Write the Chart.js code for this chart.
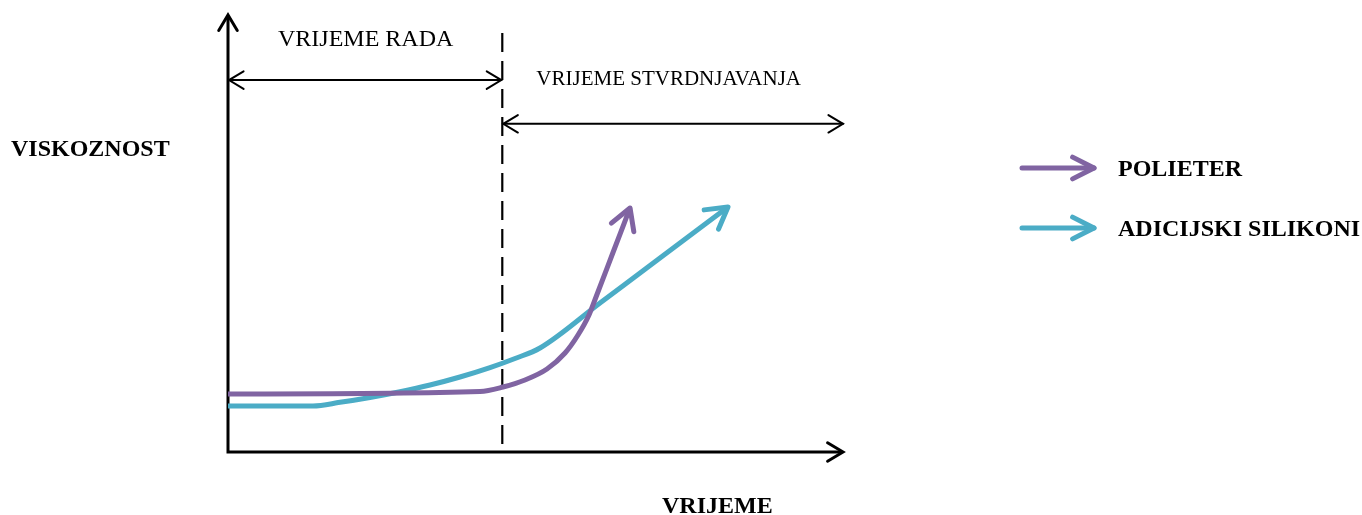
<!DOCTYPE html>
<html>
<head>
<meta charset="utf-8">
<script src="https://cdn.jsdelivr.net/npm/chart.js@4/dist/chart.umd.min.js"></script>
<style>
  html, body { margin: 0; padding: 0; background: #ffffff; }
  canvas { display: block; }
</style>
</head>
<body>
<canvas id="c" width="1362" height="515"></canvas>
<script>
// ---- data (time 0..100, viscosity 0..100, schematic units) ----
const seriesNames = ['POLIETER', 'ADICIJSKI SILIKONI'];
const seriesColors = ['#8064A2', '#4BACC6'];
const polieterX = [0, 40.98, 44.72, 48.29, 51.87, 54.80, 56.91, 58.70, 59.84, 62.60, 65.37];
const polieterY = [13.27, 13.84, 14.87, 16.48, 18.99, 22.65, 26.77, 31.35, 35.47, 45.65, 55.84];
const silikonX = [0, 13.82, 18.21, 23.09, 27.97, 32.85, 37.72, 42.60, 46.67, 50.73, 60.49, 70.24, 81.30];
const silikonY = [10.53, 10.53, 11.37, 12.49, 13.80, 15.33, 17.16, 19.31, 21.40, 23.80, 34.10, 44.39, 56.06];
const yAxisTitle = 'VISKOZNOST';
const xAxisTitle = 'VRIJEME';
const phaseLabels = ['VRIJEME RADA', 'VRIJEME STVRDNJAVANJA'];
const workEnd = 44.6;       // end of working time (dashed line)
const phaseArrowY = [85.1, 75.1]; // heights of the two span arrows

const toPts = (xs, ys) => xs.map((x, i) => ({ x: x, y: ys[i] }));

function chevron(ctx, tx, ty, ang, len, half) {
  ctx.beginPath();
  ctx.moveTo(tx - len * Math.cos(ang - half), ty - len * Math.sin(ang - half));
  ctx.lineTo(tx, ty);
  ctx.lineTo(tx - len * Math.cos(ang + half), ty - len * Math.sin(ang + half));
  ctx.stroke();
}

const SERIF = '"Liberation Serif", "Times New Roman", serif';

const decor = {
  id: 'decor',
  beforeDraw(chart) {
    const ctx = chart.ctx;
    ctx.save();
    ctx.fillStyle = '#ffffff';
    ctx.fillRect(0, 0, chart.width, chart.height);
    ctx.restore();
  },
  beforeDatasetsDraw(chart) {
    const ctx = chart.ctx;
    const xs = chart.scales.x, ys = chart.scales.y;
    const x0 = xs.getPixelForValue(0), x1 = xs.getPixelForValue(100);
    const y0 = ys.getPixelForValue(0), y1 = ys.getPixelForValue(100);
    const half = 31 * Math.PI / 180;
    ctx.save();
    ctx.strokeStyle = '#000';
    ctx.lineCap = 'butt';
    ctx.lineJoin = 'miter';
    // axes
    ctx.lineWidth = 3;
    ctx.beginPath();
    ctx.moveTo(x0, y0 + 1.5); ctx.lineTo(x0, y1 + 1);
    ctx.moveTo(x0 - 1.5, y0); ctx.lineTo(x1 - 1, y0);
    ctx.stroke();
    ctx.lineCap = 'round';
    chevron(ctx, x0, y1, -Math.PI / 2, 18, half);
    chevron(ctx, x1, y0, 0, 18, half);
    // dashed line
    const xd = xs.getPixelForValue(workEnd);
    ctx.lineCap = 'butt';
    ctx.lineWidth = 2.2;
    ctx.setLineDash([19, 9]);
    ctx.beginPath();
    ctx.moveTo(xd, y1 + 18); ctx.lineTo(xd, y0);
    ctx.stroke();
    ctx.setLineDash([]);
    // span arrows
    ctx.lineWidth = 2;
    ctx.lineCap = 'round';
    const ya = ys.getPixelForValue(phaseArrowY[0]);
    const yb = ys.getPixelForValue(phaseArrowY[1]);
    ctx.beginPath();
    ctx.moveTo(x0 + 1, ya); ctx.lineTo(xd - 1, ya);
    ctx.moveTo(xd + 1, yb); ctx.lineTo(x1, yb);
    ctx.stroke();
    chevron(ctx, x0 + 1, ya, Math.PI, 17, half);
    chevron(ctx, xd - 1, ya, 0, 17, half);
    chevron(ctx, xd + 1, yb, Math.PI, 17, half);
    chevron(ctx, x1, yb, 0, 17, half);
    // texts
    ctx.fillStyle = '#000';
    ctx.textBaseline = 'alphabetic';
    ctx.textAlign = 'left';
    ctx.font = '24px ' + SERIF;
    ctx.fillText(phaseLabels[0], x0 + 50, 46);
    ctx.font = '21px ' + SERIF;
    ctx.fillText(phaseLabels[1], xd + 34, 85);
    ctx.font = 'bold 24px ' + SERIF;
    ctx.fillText(yAxisTitle, 11, 156);
    ctx.fillText(xAxisTitle, 662, 513);
    // legend
    const lg = [168, 228];
    seriesNames.forEach((name, i) => {
      ctx.strokeStyle = seriesColors[i];
      ctx.lineWidth = 5;
      ctx.lineCap = 'round';
      ctx.lineJoin = 'round';
      ctx.beginPath();
      ctx.moveTo(1022, lg[i]); ctx.lineTo(1094, lg[i]);
      ctx.stroke();
      chevron(ctx, 1094, lg[i], 0, 24, 27 * Math.PI / 180);
      ctx.fillStyle = '#000';
      ctx.font = 'bold 24px ' + SERIF;
      ctx.fillText(name, 1118, lg[i] + 8);
    });
    ctx.restore();
  },
  afterDatasetsDraw(chart) {
    const ctx = chart.ctx;
    ctx.save();
    chart.data.datasets.forEach((ds, i) => {
      const pts = chart.getDatasetMeta(i).data;
      const a = pts[pts.length - 2], b = pts[pts.length - 1];
      const ang = Math.atan2(b.y - a.y, b.x - a.x);
      ctx.strokeStyle = ds.borderColor;
      ctx.lineWidth = 5;
      ctx.lineCap = 'round';
      ctx.lineJoin = 'round';
      chevron(ctx, b.x, b.y, ang, 24, 30 * Math.PI / 180);
    });
    ctx.restore();
  }
};

new Chart(document.getElementById('c'), {
  type: 'line',
  data: {
    datasets: [
      { label: seriesNames[0], data: toPts(polieterX, polieterY), borderColor: seriesColors[0],
        borderWidth: 5, pointRadius: 0, cubicInterpolationMode: 'monotone', fill: false, borderCapStyle: 'butt' },
      { label: seriesNames[1], data: toPts(silikonX, silikonY), borderColor: seriesColors[1],
        borderWidth: 5, pointRadius: 0, cubicInterpolationMode: 'monotone', fill: false, borderCapStyle: 'butt' }
    ]
  },
  options: {
    responsive: false,
    animation: false,
    devicePixelRatio: 1,
    layout: { padding: { left: 228, right: 519, top: 15, bottom: 63 } },
    plugins: { legend: { display: false }, tooltip: { enabled: false } },
    scales: {
      x: { type: 'linear', min: 0, max: 100, display: false },
      y: { type: 'linear', min: 0, max: 100, display: false }
    }
  },
  plugins: [decor]
});
</script>
</body>
</html>
